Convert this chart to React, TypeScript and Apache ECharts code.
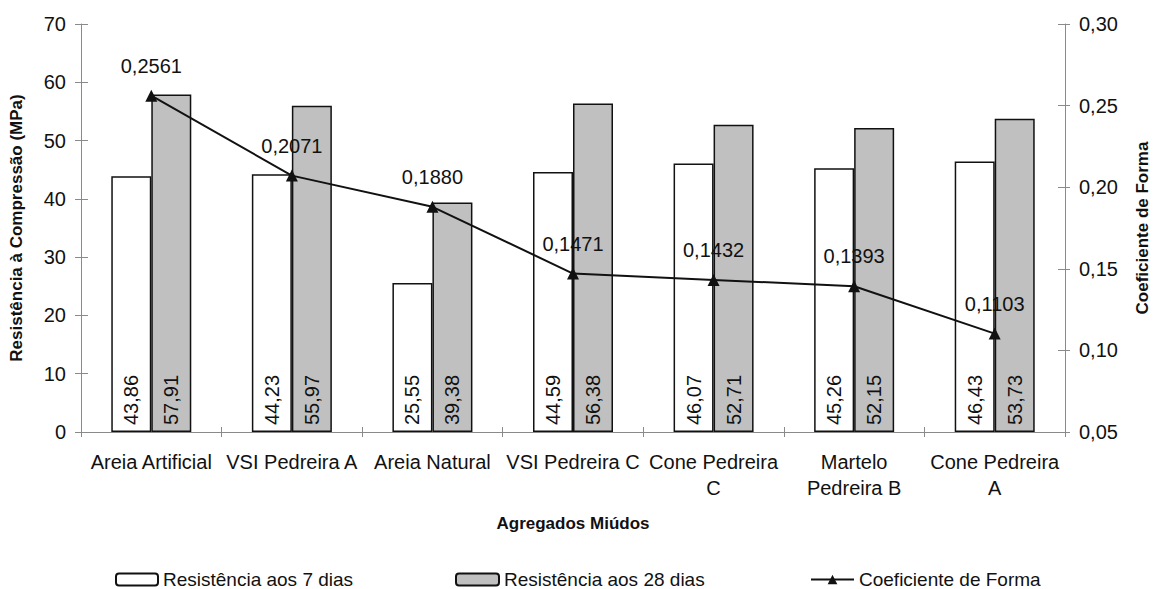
import React, { useEffect, useRef } from "react";
import * as echarts from "echarts";

const categories = [
  "Areia Artificial",
  "VSI Pedreira A",
  "Areia Natural",
  "VSI Pedreira C",
  "Cone Pedreira\nC",
  "Martelo\nPedreira B",
  "Cone Pedreira\nA",
];
const resist7 = [43.86, 44.23, 25.55, 44.59, 46.07, 45.26, 46.43];
const resist28 = [57.91, 55.97, 39.38, 56.38, 52.71, 52.15, 53.73];
const coefForma = [0.2561, 0.2071, 0.188, 0.1471, 0.1432, 0.1393, 0.1103];

const NAME7 = "Resistência aos 7 dias";
const NAME28 = "Resistência aos 28 dias";
const NAMEC = "Coeficiente de Forma";

const FONT = "'Liberation Sans', Arial, sans-serif";
const AXIS_GRAY = "#8a8a8a";

export default function App() {
  const ref = useRef<HTMLDivElement>(null);
  useEffect(() => {
    if (!ref.current) return;
    const chart = echarts.init(ref.current, undefined, { renderer: "svg" });
    const comma = (v: number, d: number) => v.toFixed(d).replace(".", ",");
    const legendText = { fontFamily: FONT, fontSize: 19, color: "#111" };
    const barLabel = {
      show: true,
      position: "insideBottom",
      rotate: 90,
      align: "left",
      verticalAlign: "middle",
      distance: 7,
      fontFamily: FONT,
      fontSize: 20,
      color: "#111",
      formatter: (p: any) => comma(p.value, 2),
    };
    chart.setOption({
      animation: false,
      textStyle: { fontFamily: FONT },
      grid: { left: 81, right: 89, top: 24, bottom: 157, containLabel: false },
      legend: [
        {
          data: [NAME7],
          left: 115,
          top: 570,
          padding: 0,
          itemWidth: 42,
          itemHeight: 12,
          textStyle: legendText,
        },
        {
          data: [NAME28],
          left: 455,
          top: 570,
          padding: 0,
          itemWidth: 43,
          itemHeight: 12,
          textStyle: legendText,
        },
        {
          data: [NAMEC],
          left: 810,
          top: 570,
          padding: 0,
          itemWidth: 43,
          itemHeight: 12,
          textStyle: legendText,
        },
      ],
      xAxis: [
        {
          type: "category",
          data: categories,
          position: "bottom",
          name: "Agregados Miúdos",
          nameLocation: "middle",
          nameGap: 83,
          nameTextStyle: { fontFamily: FONT, fontSize: 17, fontWeight: "bold", color: "#111" },
          axisLine: { lineStyle: { color: AXIS_GRAY, width: 1 } },
          axisTick: { show: true, length: 5, lineStyle: { color: AXIS_GRAY } },
          axisLabel: {
            fontFamily: FONT,
            fontSize: 20,
            color: "#111",
            margin: 17,
            lineHeight: 26,
            interval: 0,
          },
          splitLine: { show: false },
        },
        {
          type: "category",
          data: categories,
          position: "bottom",
          axisLine: { show: false },
          axisTick: { show: true, inside: true, length: 5, lineStyle: { color: AXIS_GRAY } },
          axisLabel: { show: false },
          splitLine: { show: false },
        },
      ],
      yAxis: [
        {
          type: "value",
          position: "left",
          min: 0,
          max: 70,
          interval: 10,
          name: "Resistência à Compressão (MPa)",
          nameLocation: "middle",
          nameRotate: 90,
          nameGap: 56,
          nameTextStyle: { fontFamily: FONT, fontSize: 17, fontWeight: "bold", color: "#111" },
          axisLine: { show: true, lineStyle: { color: AXIS_GRAY, width: 1 } },
          axisTick: { show: true, length: 6, lineStyle: { color: AXIS_GRAY } },
          axisLabel: { fontFamily: FONT, fontSize: 20, color: "#111", margin: 15 },
          splitLine: { show: false },
        },
        {
          type: "value",
          position: "right",
          min: 0.05,
          max: 0.3,
          interval: 0.05,
          name: NAMEC,
          nameLocation: "middle",
          nameRotate: 90,
          nameGap: 69,
          nameTextStyle: { fontFamily: FONT, fontSize: 17, fontWeight: "bold", color: "#111" },
          axisLine: { show: true, lineStyle: { color: AXIS_GRAY, width: 1 } },
          axisTick: { show: true, length: 5, lineStyle: { color: AXIS_GRAY } },
          axisLabel: {
            fontFamily: FONT,
            fontSize: 20,
            color: "#111",
            margin: 14,
            formatter: (v: number) => comma(v, 2),
          },
          splitLine: { show: false },
        },
        {
          type: "value",
          position: "left",
          min: 0,
          max: 70,
          interval: 10,
          axisLine: { show: false },
          axisTick: { show: true, inside: true, length: 7, lineStyle: { color: AXIS_GRAY } },
          axisLabel: { show: false },
          splitLine: { show: false },
        },
        {
          type: "value",
          position: "right",
          min: 0.05,
          max: 0.3,
          interval: 0.05,
          axisLine: { show: false },
          axisTick: { show: true, inside: true, length: 7, lineStyle: { color: AXIS_GRAY } },
          axisLabel: { show: false },
          splitLine: { show: false },
        },
      ],
      series: [
        {
          name: NAME7,
          type: "bar",
          xAxisIndex: 0,
          yAxisIndex: 0,
          data: resist7,
          barWidth: 40,
          barGap: "0%",
          itemStyle: { color: "#ffffff", borderColor: "#111", borderWidth: 1.5 },
          label: barLabel,
          z: 2,
        },
        {
          name: NAME28,
          type: "bar",
          xAxisIndex: 0,
          yAxisIndex: 0,
          data: resist28,
          barWidth: 40,
          barGap: "0%",
          itemStyle: { color: "#c0c0c0", borderColor: "#111", borderWidth: 1.5 },
          label: barLabel,
          z: 2,
        },
        {
          name: NAMEC,
          type: "line",
          xAxisIndex: 0,
          yAxisIndex: 1,
          data: coefForma,
          symbol: "triangle",
          symbolSize: 12,
          lineStyle: { color: "#111", width: 2 },
          itemStyle: { color: "#111" },
          label: {
            show: true,
            position: "top",
            distance: 14,
            fontFamily: FONT,
            fontSize: 20,
            color: "#111",
            formatter: (p: any) => comma(p.value, 4),
          },
          z: 5,
        },
      ],
    });
    return () => chart.dispose();
  }, []);
  return <div ref={ref} style={{ width: 1159, height: 589, position: "absolute", left: 0, top: 0 }} />;
}
